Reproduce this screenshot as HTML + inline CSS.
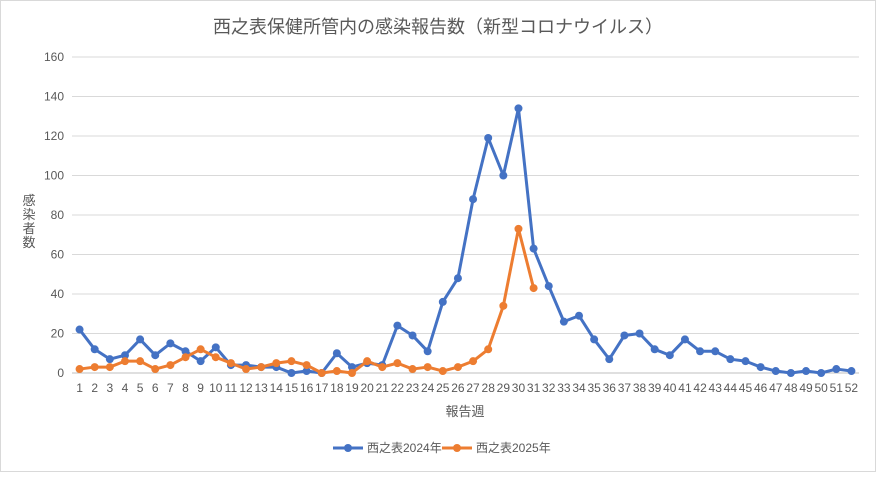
<!DOCTYPE html>
<html><head><meta charset="utf-8">
<style>
body{margin:0;background:#fff;font-family:"Liberation Sans","Noto Sans CJK JP",sans-serif;}
#wrap{position:relative;width:877px;height:473px;}
svg text{font-family:"Liberation Sans","Noto Sans CJK JP",sans-serif;}
</style></head>
<body>
<div id="wrap">
<svg id="chart" width="877" height="473">
<rect x="0.5" y="0.5" width="875" height="471" fill="#fff" stroke="#d9d9d9"/>
<text x="438" y="33" text-anchor="middle" font-size="18" fill="#595959">西之表保健所管内の感染報告数（新型コロナウイルス）</text>
<text x="29" y="205" font-size="13" fill="#595959" text-anchor="middle"><tspan x="29" dy="0">感</tspan><tspan x="29" dy="14">染</tspan><tspan x="29" dy="14">者</tspan><tspan x="29" dy="14">数</tspan></text>
<text x="465" y="416" font-size="13" fill="#595959" text-anchor="middle">報告週</text>
<g id="grid"></g><g id="series"></g>
<g>
<line x1="333" y1="448" x2="363" y2="448" stroke="#4472c4" stroke-width="3"/>
<circle cx="348" cy="448" r="4" fill="#4472c4"/>
<text x="367" y="452" font-size="12" fill="#595959">西之表2024年</text>
<line x1="442" y1="448" x2="472" y2="448" stroke="#ed7d31" stroke-width="3"/>
<circle cx="457" cy="448" r="4" fill="#ed7d31"/>
<text x="476" y="452" font-size="12" fill="#595959">西之表2025年</text>
</g>
</svg></div>
<script>
const weeks = Array.from({length:52},(_,i)=>i+1);
const yTicks = [0,20,40,60,80,100,120,140,160];
const s2024 = [22,12,7,9,17,9,15,11,6,13,4,4,3,3,0,1,0,10,3,5,4,24,19,11,36,48,88,119,100,134,63,44,26,29,17,7,19,20,12,9,17,11,11,7,6,3,1,0,1,0,2,1];
const s2025 = [2,3,3,6,6,2,4,8,12,8,5,2,3,5,6,4,0,1,0,6,3,5,2,3,1,3,6,12,34,73,43];
const NS="http://www.w3.org/2000/svg";
const X0=72,X1=859,Y0=373,Y1=57,YMAX=160;
const step=(X1-X0)/52;
const xs=w=>X0+step*(w-0.5);
const ys=v=>Y0-(v/YMAX)*(Y0-Y1);
function mk(tag,attrs,parent){const e=document.createElementNS(NS,tag);for(const k in attrs)e.setAttribute(k,attrs[k]);parent.appendChild(e);return e;}
const grid=document.getElementById('grid');
yTicks.forEach(t=>{
  const l=mk('line',{x1:X0,x2:X1,y1:ys(t),y2:ys(t),stroke:t===0?'#bfbfbf':'#d9d9d9','stroke-width':1},grid);
  
  
  const tx=mk('text',{x:64,y:ys(t)+4,'text-anchor':'end','font-size':12,fill:'#595959'},grid);
  tx.textContent=t;
  
  
});
weeks.forEach(w=>{
  const tx=mk('text',{x:xs(w),y:392,'text-anchor':'middle','font-size':12,fill:'#595959'},grid);
  tx.textContent=w;
  
  
});
const sg=document.getElementById('series');
function draw(data,color,name){
  const pts=data.map((v,i)=>xs(weeks[i])+','+ys(v)).join(' ');
  const pl=mk('polyline',{points:pts,fill:'none',stroke:color,'stroke-width':3,'stroke-linejoin':'round'},sg);
  
  
  data.forEach((v,i)=>{
    const c=mk('circle',{cx:xs(weeks[i]),cy:ys(v),r:4,fill:color},sg);
    
    
  });
}
draw(s2024,'#4472c4','series-2024');
draw(s2025,'#ed7d31','series-2025');
</script>
</body></html>
